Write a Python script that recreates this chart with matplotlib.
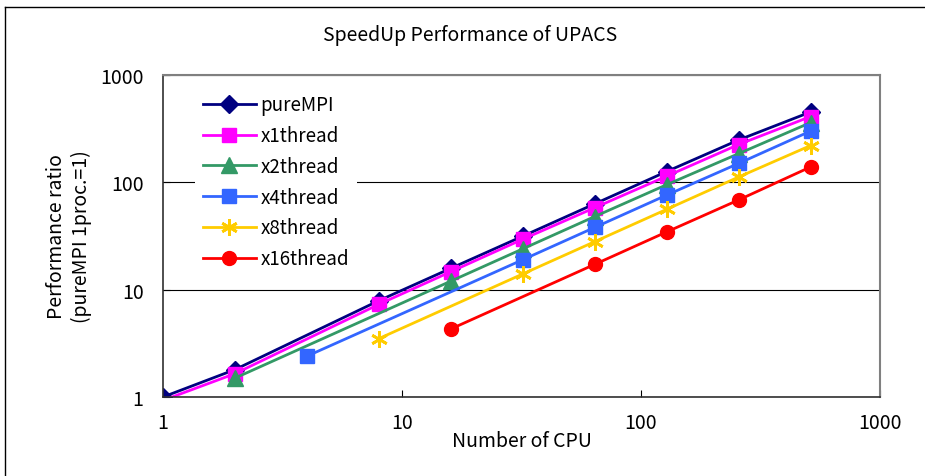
import matplotlib

matplotlib.use("Agg")
import matplotlib.pyplot as plt
from matplotlib.lines import Line2D

plt.rcParams["font.family"] = ["Noto Sans CJK JP", "DejaVu Sans"]

# number of CPUs for each series
cpu_pure = [1, 2, 8, 16, 32, 64, 128, 256, 512]
cpu_x1 = [1, 2, 8, 16, 32, 64, 128, 256, 512]
cpu_x2 = [2, 16, 32, 64, 128, 256, 512]
cpu_x4 = [4, 32, 64, 128, 256, 512]
cpu_x8 = [8, 32, 64, 128, 256, 512]
cpu_x16 = [16, 64, 128, 256, 512]

# performance ratio (pureMPI 1proc. = 1)
perf_pure = [1.0, 1.8, 7.9, 15.8, 31.5, 63, 126, 248, 452]
perf_x1 = [0.93, 1.65, 7.3, 14.7, 29.5, 58, 114, 225, 410]
perf_x2 = [1.5, 12, 24, 48, 95, 185, 360]
perf_x4 = [2.4, 19, 38, 76, 150, 300]
perf_x8 = [3.5, 14, 28, 56, 112, 220]
perf_x16 = [4.3, 17.2, 34.5, 68.5, 139]

series = [
    ("pureMPI", cpu_pure, perf_pure, "#000080", "D", 9, None),
    ("x1thread", cpu_x1, perf_x1, "#FF00FF", "s", 10, slice(1, None)),
    ("x2thread", cpu_x2, perf_x2, "#339966", "^", 11, None),
    ("x4thread", cpu_x4, perf_x4, "#3366FF", "s", 10, None),
    ("x8thread", cpu_x8, perf_x8, "#FFCC00", (6, 2, 0), 12, None),
    ("x16thread", cpu_x16, perf_x16, "#FF0000", "o", 10, None),
]

fs = 14

fig = plt.figure(figsize=(9.25, 4.77), dpi=100)
ax = fig.add_axes([163 / 925, 1 - 398 / 477, 717 / 925, 322 / 477])

handles = []
for label, xs, ys, color, marker, size, every in series:
    mew = 2 if marker == (6, 2, 0) else 1
    ax.plot(xs, ys, color=color, lw=2, marker=marker, ms=size, mfc=color,
            mec=color, mew=mew, markevery=every, label=label)
    handles.append(Line2D([], [], color=color, lw=2, marker=marker, ms=size,
                          mfc=color, mec=color, mew=mew))

ax.set_xscale("log")
ax.set_yscale("log")
ax.set_xlim(1, 1000)
ax.set_ylim(1, 1000)
ax.set_xticks([1, 10, 100, 1000])
ax.set_xticklabels(["1", "10", "100", "1000"])
ax.set_yticks([1, 10, 100, 1000])
ax.set_yticklabels(["1", "10", "100", "1000"])
ax.minorticks_off()
ax.tick_params(direction="in", length=5, labelsize=fs, color="black")
ax.tick_params(axis="x", pad=11)
ax.tick_params(axis="y", pad=14)
ax.grid(axis="y", color="black", lw=0.8)
ax.set_axisbelow(True)
for side in ("top", "right"):
    ax.spines[side].set_color("#808080")
    ax.spines[side].set_linewidth(1.5)
for side in ("left", "bottom"):
    ax.spines[side].set_color("#303030")
    ax.spines[side].set_linewidth(1.2)

ax.set_xlabel("Number of CPU", fontsize=fs, labelpad=-2)
ax.set_ylabel("Performance ratio\n(pureMPI 1proc.=1)", fontsize=fs, labelpad=6,
              linespacing=1.25)

leg = ax.legend(handles, [s[0] for s in series], loc="upper left",
                bbox_to_anchor=(32 / 717, 1 - 12 / 322), fontsize=13.5,
                frameon=True, fancybox=False, edgecolor="none",
                facecolor="white", framealpha=1, handlelength=2.85,
                handletextpad=0.25, labelspacing=0.52, borderpad=0.4,
                borderaxespad=0)
leg.set_zorder(5)

fig.text(470 / 925, 1 - 35 / 477, "SpeedUp Performance of UPACS", ha="center",
         va="center", fontsize=fs)

# outer chart frame (cropped at right and bottom)
fig.add_artist(Line2D([5 / 925, 1], [1 - 8 / 477, 1 - 8 / 477], color="black", lw=1))
fig.add_artist(Line2D([5 / 925, 5 / 925], [0, 1 - 8 / 477], color="black", lw=1))

fig.savefig("out.png", dpi=100)
